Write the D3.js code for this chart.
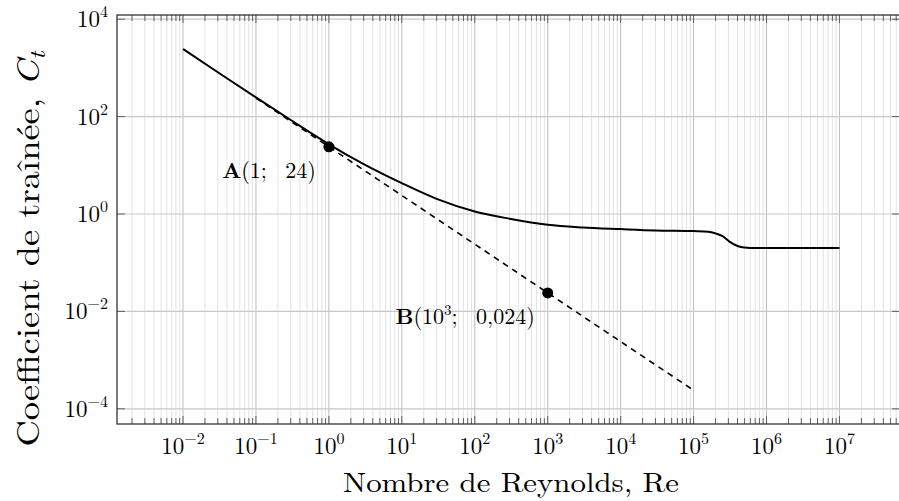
<!DOCTYPE html>
<html>
<head>
<meta charset="utf-8">
<script src="https://cdn.jsdelivr.net/npm/d3@7"></script>
<style>
  body { margin: 0; background: #fff; }
  svg text { font-family: "Latin Modern Roman", "CMU Serif", "Liberation Serif", serif; fill: #000; }
</style>
</head>
<body>
<div id="chart"></div>
<script>
// drag curve
const reynolds = [0.01, 0.03, 0.1, 0.3, 1, 3, 10, 30, 100, 300, 1000, 3000, 1e4, 3e4, 1e5, 1.6e5, 2e5, 2.5e5, 3.1e5, 4e5, 5e5, 7e5, 1e6, 1e7];
const dragCoef = [2440, 815, 248, 85, 27, 10.6, 4.3, 2.05, 1.13, 0.8, 0.6, 0.53, 0.49, 0.46, 0.445, 0.434, 0.40, 0.35, 0.27, 0.22, 0.205, 0.2, 0.2, 0.2];

// Stokes law (dashed)
const stokesRe = [0.1, 1, 1e3, 1e5];
const stokesCd = [240, 24, 0.024, 0.00024];

// marked points
const pointRe = [1, 1e3];
const pointCd = [24, 0.024];
const pointName = ["A", "B"];
const pointText = [["(1;\u2002 24)"], ["(10", "3", ";\u2002 0,024)"]];

const xTickExp = [-2, -1, 0, 1, 2, 3, 4, 5, 6, 7];
const yTickExp = [-4, -2, 0, 2, 4];

const W = 899, H = 501;
const margin = {top: 15, right: -1, bottom: 77, left: 117};

const svg = d3.select("#chart").append("svg")
    .attr("width", W)
    .attr("height", H);

const x = d3.scaleLog()
    .domain([Math.pow(10, -2.905), Math.pow(10, 7.83)])
    .range([margin.left, W - margin.right]);
const y = d3.scaleLog()
    .domain([Math.pow(10, -4.312), Math.pow(10, 4.086)])
    .range([H - margin.bottom, margin.top]);

const x0 = x.range()[0], x1 = x.range()[1];
const y0 = y.range()[0], y1 = y.range()[1];

// minor / major positions on x
var minorX = [];
for (let e = -3; e <= 7; e++) {
    for (let m = 2; m <= 9; m++) {
        let v = m * Math.pow(10, e);
        if (v > x.domain()[0] && v < x.domain()[1]) minorX.push(v);
    }
}
const majorX = xTickExp.map(e => Math.pow(10, e));
const majorY = yTickExp.map(e => Math.pow(10, e));

const grid = svg.append("g");
grid.selectAll(".minx").data(minorX).enter().append("line")
    .attr("x1", d => x(d)).attr("x2", d => x(d))
    .attr("y1", y0).attr("y2", y1)
    .attr("stroke", "#e3e3e3").attr("stroke-width", 1);
grid.selectAll(".majx").data(majorX).enter().append("line")
    .attr("x1", d => x(d)).attr("x2", d => x(d))
    .attr("y1", y0).attr("y2", y1)
    .attr("stroke", "#bdbdbd").attr("stroke-width", 1);
grid.selectAll(".majy").data(majorY).enter().append("line")
    .attr("x1", x0).attr("x2", x1)
    .attr("y1", d => y(d)).attr("y2", d => y(d))
    .attr("stroke", "#c8c8c8").attr("stroke-width", 1.2);

// tick marks
const ticks = svg.append("g").attr("stroke", "#555").attr("stroke-width", 0.9);
minorX.forEach(function(v) {
    ticks.append("line").attr("x1", x(v)).attr("x2", x(v)).attr("y1", y0).attr("y2", y0 - 6);
    ticks.append("line").attr("x1", x(v)).attr("x2", x(v)).attr("y1", y1).attr("y2", y1 + 6);
});
majorX.forEach(function(v) {
    ticks.append("line").attr("x1", x(v)).attr("x2", x(v)).attr("y1", y0).attr("y2", y0 - 8);
    ticks.append("line").attr("x1", x(v)).attr("x2", x(v)).attr("y1", y1).attr("y2", y1 + 8);
});
majorY.forEach(function(v) {
    ticks.append("line").attr("x1", x0).attr("x2", x0 + 8).attr("y1", y(v)).attr("y2", y(v));
    ticks.append("line").attr("x1", x1).attr("x2", x1 - 8).attr("y1", y(v)).attr("y2", y(v));
});

// curves
const line = d3.line()
    .x(d => x(d[0]))
    .y(d => y(d[1]))
    .curve(d3.curveMonotoneX);

svg.append("path")
    .datum(stokesRe.map((r, i) => [r, stokesCd[i]]))
    .attr("fill", "none")
    .attr("stroke", "#000")
    .attr("stroke-width", 1.6)
    .attr("stroke-dasharray", "6,5")
    .attr("d", line);

svg.append("path")
    .datum(reynolds.map((r, i) => [r, dragCoef[i]]))
    .attr("fill", "none")
    .attr("stroke", "#000")
    .attr("stroke-width", 2)
    .attr("d", line);

// points and labels
pointRe.forEach(function(r, i) {
    svg.append("circle")
        .attr("cx", x(r)).attr("cy", y(pointCd[i]))
        .attr("r", 5.5).attr("fill", "#000");
    let t = svg.append("text")
        .attr("x", x(r) - 13).attr("y", y(pointCd[i]) + 31)
        .attr("text-anchor", "end")
        .attr("font-size", 22)
        .style("white-space", "pre");
    t.append("tspan").attr("font-weight", "bold").text(pointName[i]);
    let parts = pointText[i];
    if (parts.length === 1) {
        t.append("tspan").text(parts[0]);
    } else {
        t.append("tspan").text(parts[0]);
        t.append("tspan").attr("font-size", 15).attr("dy", -9).text(parts[1]);
        t.append("tspan").attr("dy", 9).text(parts[2]);
    }
});

// frame
svg.append("rect")
    .attr("x", x0).attr("y", y1)
    .attr("width", x1 - x0).attr("height", y0 - y1)
    .attr("fill", "none").attr("stroke", "#333").attr("stroke-width", 1.3);

// tick labels
majorX.forEach(function(v, i) {
    let t = svg.append("text")
        .attr("x", x(v)).attr("y", 454)
        .attr("text-anchor", "middle")
        .attr("font-size", 23);
    t.append("tspan").text("10");
    t.append("tspan").attr("font-size", 16).attr("dy", -10)
        .text(String(xTickExp[i]).replace("-", "\u2212"));
});
majorY.forEach(function(v, i) {
    let t = svg.append("text")
        .attr("x", 108).attr("y", y(v) + 8)
        .attr("text-anchor", "end")
        .attr("font-size", 23);
    t.append("tspan").text("10");
    t.append("tspan").attr("font-size", 16).attr("dy", -10)
        .text(String(yTickExp[i]).replace("-", "\u2212"));
});

// axis titles
svg.append("text")
    .attr("x", 511).attr("y", 492)
    .attr("text-anchor", "middle")
    .attr("font-size", 28)
    .attr("textLength", 336)
    .attr("lengthAdjust", "spacingAndGlyphs")
    .text("Nombre de Reynolds, Re");

const yl = svg.append("text")
    .attr("transform", "translate(39,249) rotate(-90)")
    .attr("text-anchor", "middle")
    .attr("font-size", 32)
    .attr("textLength", 395)
    .attr("lengthAdjust", "spacingAndGlyphs");
yl.append("tspan").text("Coefficient de traînée, ");
yl.append("tspan").attr("font-style", "italic").text("C");
yl.append("tspan").attr("font-style", "italic").attr("font-size", 22).attr("dy", 6).text("t");
</script>
</body>
</html>
